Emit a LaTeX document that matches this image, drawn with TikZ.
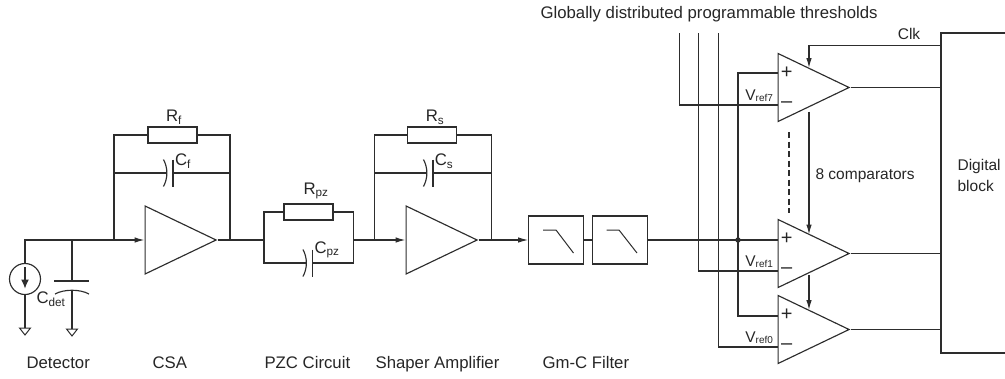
\documentclass[tikz,border=0pt]{standalone}
\usepackage{fontspec}
\setmainfont{Liberation Sans}
\usepackage{tikz}
\usepackage{xcolor}
\usetikzlibrary{arrows.meta,shapes.geometric}
\definecolor{wire}{RGB}{45,45,45}
\tikzset{
    amp/.style={draw=wire, isosceles triangle, shape border rotate=0, isosceles triangle stretches, minimum width=68pt, minimum height=71pt, inner sep=0pt, anchor=lower side},
    res/.style={draw=wire, fill=white, minimum width=49pt, minimum height=16pt, inner sep=0pt},
    filt/.style={draw=wire, minimum width=54.5pt, minimum height=48pt, inner sep=0pt},
    lab/.style={inner sep=0pt, text=black!85, font=\fontsize{16.75}{20}\selectfont},
    small/.style={inner sep=0pt, text=black!85, font=\fontsize{15.5}{18}\selectfont},
    sign/.style={inner sep=0pt, text=black!85, font=\fontsize{20}{20}\selectfont}
}

\begin{document}
\begin{tikzpicture}[x=1pt, y=-1pt, line width=1.15pt, color=wire, >={Latex[length=10pt,width=5.5pt]}]
        \useasboundingbox (0,0) rectangle (1005,378);

        % Versterkers en filters
        \node[amp] (csa) at (144.5,240) {};
        \node[amp] (shaper) at (405.5,240) {};
        \node[filt] (lpa) at (556,240) {};
        \node[filt] (lpb) at (620,240) {};
        \draw[line width=1pt] (543,230) -- (556,230) -- (573.5,253);
        \draw[line width=1pt] (606.5,230) -- (619,230) -- (637,253);

        % Weerstanden
        \node[res] (rf) at (172.5,135) {};
        \node[res] (rpz) at (308.5,212) {};
        \node[res] (rs) at (432,135) {};

        % Bron en detector
        \node[draw=wire, circle, minimum size=31pt, inner sep=0pt] (src) at (25,279) {};
        \draw[-{Latex[length=9pt,width=8pt]}] (25,267) -- (25,288.5);
        \coordinate (cdet) at (72,240);
        \coordinate (csain) at (114,240);
        \coordinate (csaout) at (230,240);
        \coordinate (pzl) at (264,240);
        \coordinate (pzr) at (353.5,240);
        \coordinate (shin) at (374.5,240);
        \coordinate (shout) at (491.5,240);
        \coordinate (gnda) at (25,328);
        \coordinate (gndb) at (72,329);
        \draw[->] (src.north) |- (csa.lower side);
        \draw (cdet) -- (72,281);
        \draw (54,281) -- (89,281);
        \draw (55,294) .. controls (64,289) and (80,289) .. (89,294);
        \draw (72,291) -- (gndb);
        \draw (src.south) -- (gnda);
        \foreach \g in {gnda, gndb} {
            \draw[line width=1pt] ([xshift=-5.5pt]\g) -- ([xshift=5.5pt]\g) -- ([yshift=-7pt]\g) -- cycle;
        }

        % Terugkoppeling en condensatoren
        \coordinate (cfp) at (173,173);
        \coordinate (cpzp) at (312.5,263);
        \coordinate (csp) at (433,173);
        \foreach \c in {cfp, cpzp, csp} {
            \draw ([yshift=13.5pt]\c) -- ([yshift=-13.5pt]\c);
            \draw ([shift={(-9.5pt,13.5pt)}]\c) .. controls ([shift={(-5pt,5pt)}]\c) and ([shift={(-5pt,-5pt)}]\c) .. ([shift={(-9.5pt,-13.5pt)}]\c);
        }
        \draw (csain) |- (rf.west);
        \draw (rf.east) -| (csaout);
        \draw (114,173) -- ([xshift=-6pt]cfp);
        \draw (cfp) -- (230,173);
        \draw (csa.apex) -- (lpa.west -| pzl);
        \draw (pzl) |- (rpz.west);
        \draw (rpz.east) -| (pzr);
        \draw (pzl) |- ([xshift=-6pt]cpzp);
        \draw (cpzp) -| (pzr);
        \draw[->] (pzr) -- (shaper.lower side);
        \draw (shin) |- (rs.west);
        \draw (rs.east) -| (shout);
        \draw (374.5,173) -- ([xshift=-6pt]csp);
        \draw (csp) -- (491.5,173);
        \draw[->] (shaper.apex) -- (lpa.west);
        \draw (lpa.east) -- (lpb.west);

        % Comparatoren
        \node[amp] (cmpa) at (777.5,87.5) {};
        \node[amp] (cmpb) at (777.5,253.5) {};
        \node[amp] (cmpc) at (777.5,329.5) {};
        \foreach \n/\vr in {cmpa/7, cmpb/1, cmpc/0} {
            \node[sign] (plus\n) at ([xshift=9.2pt,yshift=14.5pt]\n.lower side) {+};
            \node[sign] (min\n) at ([xshift=9.2pt,yshift=-17.5pt]\n.lower side) {--};
            \node[small, anchor=base east] (v\n) at ([xshift=-4pt,yshift=-12.5pt]\n.lower side) {V\raisebox{-1.5pt}{\fontsize{10}{12}\selectfont ref\vr}};
        }

        % Digitaal blok
        \coordinate (dtop) at (941,33);
        \coordinate (dbot) at (941,353);
        \draw (1005,33) -- (dtop) -- (dbot) -- (1005,353);
        \foreach \n in {cmpa, cmpb, cmpc} {
            \draw (\n.apex) -- (\n.apex -| dtop);
        }

        % Drempels en ingangen
        \coordinate (juncb) at (738,240);
        \draw (lpb.east) -- (777.5,240);
        \draw (777.5,73) -- (738,73) -- (738,316) -- (777.5,316);
        \fill (juncb) circle (2.7pt);
        \draw (679.5,33) |- (777.5,105);
        \draw (698.5,33) |- (777.5,271);
        \draw (718.5,33) |- (777.5,347);

        % Klok
        \coordinate (clka) at (809,45.5);
        \draw[->] (941,45.5) -- (clka) -- (809,68);
        \draw[->] (809,111.5) -- (809,234.5);
        \draw[->] (809,275) -- (809,310);
        \draw[dashed, dash pattern=on 6pt off 3.5pt] (789,132) -- (789,213);

        % Labels
        \node[lab] (lrf) at (174,117) {R\textsubscript{f}};
        \node[lab] (lcf) at (183,161) {C\textsubscript{f}};
        \node[lab] (lrpz) at (316,191) {R\textsubscript{pz}};
        \node[lab] (lcpz) at (327,250) {C\textsubscript{pz}};
        \node[lab] (lrs) at (435,117) {R\textsubscript{s}};
        \node[lab] (lcs) at (444,161) {C\textsubscript{s}};
        \node[lab] (lcdet) at (51,299) {C\textsubscript{det}};
        \node[lab, anchor=base west] (ldet) at (26,368) {Detector};
        \node[lab, anchor=base west] (lcsa) at (152,368) {CSA};
        \node[lab, anchor=base west] (lpzc) at (264,368) {PZC Circuit};
        \node[lab, anchor=base west] (lsh) at (375,368) {Shaper Amplifier};
        \node[lab, anchor=base west] (lgm) at (542,368) {Gm-C Filter};
        \node[lab, anchor=base west] (lglob) at (540,18.5) {Globally distributed programmable thresholds};
        \node[small, anchor=base] (lclk) at (909,39) {Clk};
        \node[small, anchor=base west] (lcomp) at (815,179) {8 comparators};
        \node[small, anchor=base west] (ldiga) at (957,170.5) {Digital};
        \node[small, anchor=base west] (ldigb) at (957,191.5) {block};
    \end{tikzpicture}
\end{document}
